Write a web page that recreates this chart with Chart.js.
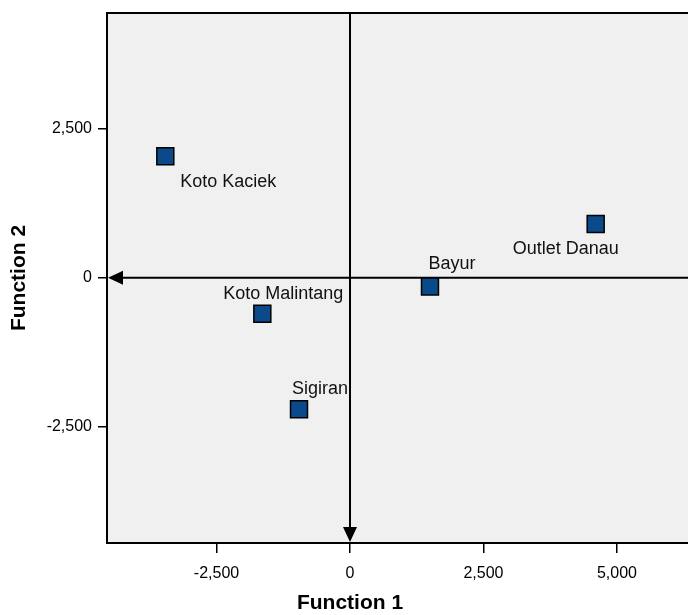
<!DOCTYPE html>
<html>
<head>
<meta charset="utf-8">
<script src="https://cdn.jsdelivr.net/npm/chart.js@4.4.1/dist/chart.umd.min.js"></script>
<style>
  html, body { margin: 0; padding: 0; background: #fff; overflow: hidden; }
  #wrap { width: 688px; height: 615px; }
  canvas { display: block; }
</style>
</head>
<body>
<div id="wrap"><canvas id="chart" width="688" height="615"></canvas></div>
<script>
// group centroids
const groups = ['Koto Kaciek', 'Koto Malintang', 'Sigiran', 'Bayur', 'Outlet Danau'];
const function1 = [-3459, -1642, -955, 1498, 4601];
const function2 = [2035, -604, -2203, -146, 901];

const xTicks = [-2500, 0, 2500, 5000];
const yTicks = [-2500, 0, 2500];

// label placement around each marker (text centre offset, px)
const labelOffsets = {
  'Koto Kaciek': [63, 26],
  'Koto Malintang': [21, -20],
  'Sigiran': [21, -20],
  'Bayur': [22, -22],
  'Outlet Danau': [-30, 25]
};

const fmt = v => Number(v).toLocaleString('en-US');

const plotFrame = {
  id: 'plotFrame',
  beforeDraw(chart) {
    const { ctx, chartArea: a } = chart;
    ctx.save();
    ctx.fillStyle = '#f0f0f0';
    ctx.fillRect(a.left, a.top, a.right - a.left, a.bottom - a.top);
    ctx.restore();
  },
  beforeDatasetsDraw(chart) {
    const { ctx, chartArea: a, scales } = chart;
    const x0 = scales.x.getPixelForValue(0);
    const y0 = scales.y.getPixelForValue(0);
    ctx.save();
    ctx.strokeStyle = '#000';
    ctx.fillStyle = '#000';
    ctx.lineWidth = 2;
    // horizontal zero line, arrow to the left
    ctx.beginPath();
    ctx.moveTo(a.right, y0);
    ctx.lineTo(a.left + 12, y0);
    ctx.stroke();
    ctx.beginPath();
    ctx.moveTo(a.left + 1, y0);
    ctx.lineTo(a.left + 16, y0 - 7);
    ctx.lineTo(a.left + 16, y0 + 7);
    ctx.closePath();
    ctx.fill();
    // vertical zero line, arrow downwards
    ctx.beginPath();
    ctx.moveTo(x0, a.top);
    ctx.lineTo(x0, a.bottom - 12);
    ctx.stroke();
    ctx.beginPath();
    ctx.moveTo(x0, a.bottom - 1);
    ctx.lineTo(x0 - 7, a.bottom - 16);
    ctx.lineTo(x0 + 7, a.bottom - 16);
    ctx.closePath();
    ctx.fill();
    ctx.restore();
  },
  afterDatasetsDraw(chart) {
    const { ctx, chartArea: a } = chart;
    ctx.save();
    // top border (left/bottom come from the axes)
    ctx.strokeStyle = '#000';
    ctx.lineWidth = 2;
    ctx.beginPath();
    ctx.moveTo(a.left - 1, a.top);
    ctx.lineTo(a.right, a.top);
    ctx.stroke();

    // point labels
    ctx.font = '18px "Liberation Sans", Arial, sans-serif';
    ctx.fillStyle = '#111';
    ctx.textAlign = 'center';
    ctx.textBaseline = 'middle';
    const meta = chart.getDatasetMeta(0);
    meta.data.forEach((pt, i) => {
      const off = labelOffsets[groups[i]] || [0, -20];
      ctx.fillText(groups[i], pt.x + off[0], pt.y + off[1]);
    });

    // axis titles
    ctx.font = 'bold 21px "Liberation Sans", Arial, sans-serif';
    ctx.fillStyle = '#000';
    ctx.fillText('Function 1', 350, 603);
    ctx.translate(19, (a.top + a.bottom) / 2);
    ctx.rotate(-Math.PI / 2);
    ctx.fillText('Function 2', 0, 0);
    ctx.restore();
  }
};

new Chart(document.getElementById('chart'), {
  type: 'scatter',
  data: {
    datasets: [{
      label: 'Group centroids',
      data: function1.map((v, i) => ({ x: v, y: function2[i] })),
      pointStyle: 'rect',
      pointRadius: 12,
      pointHoverRadius: 12,
      backgroundColor: '#0b4a8a',
      borderColor: '#000',
      borderWidth: 1.5
    }]
  },
  options: {
    responsive: false,
    animation: false,
    layout: { autoPadding: false, padding: { top: 13, right: 0, left: 0, bottom: 0 } },
    plugins: {
      legend: { display: false },
      tooltip: { enabled: false }
    },
    scales: {
      x: {
        type: 'linear',
        min: -4551,
        max: 6330,
        afterBuildTicks: s => { s.ticks = xTicks.map(v => ({ value: v })); },
        afterFit: s => { s.height = 72; s.paddingLeft = 0; s.paddingRight = 0; },
        grid: { drawOnChartArea: false, drawTicks: true, tickLength: 10, color: '#000', lineWidth: 1.5 },
        border: { display: true, color: '#000', width: 2 },
        ticks: {
          callback: v => fmt(v),
          color: '#000',
          padding: 11,
          maxRotation: 0,
          font: { family: '"Liberation Sans", Arial, sans-serif', size: 16 }
        }
      },
      y: {
        type: 'linear',
        min: -4446,
        max: 4438,
        afterBuildTicks: s => { s.ticks = yTicks.map(v => ({ value: v })); },
        afterFit: s => { s.width = 107; s.paddingTop = 0; s.paddingBottom = 0; },
        grid: { drawOnChartArea: false, drawTicks: true, tickLength: 9, color: '#000', lineWidth: 1.5 },
        border: { display: true, color: '#000', width: 2 },
        ticks: {
          callback: v => fmt(v),
          color: '#000',
          padding: 6,
          font: { family: '"Liberation Sans", Arial, sans-serif', size: 16 }
        }
      }
    }
  },
  plugins: [plotFrame]
});
</script>
</body>
</html>
